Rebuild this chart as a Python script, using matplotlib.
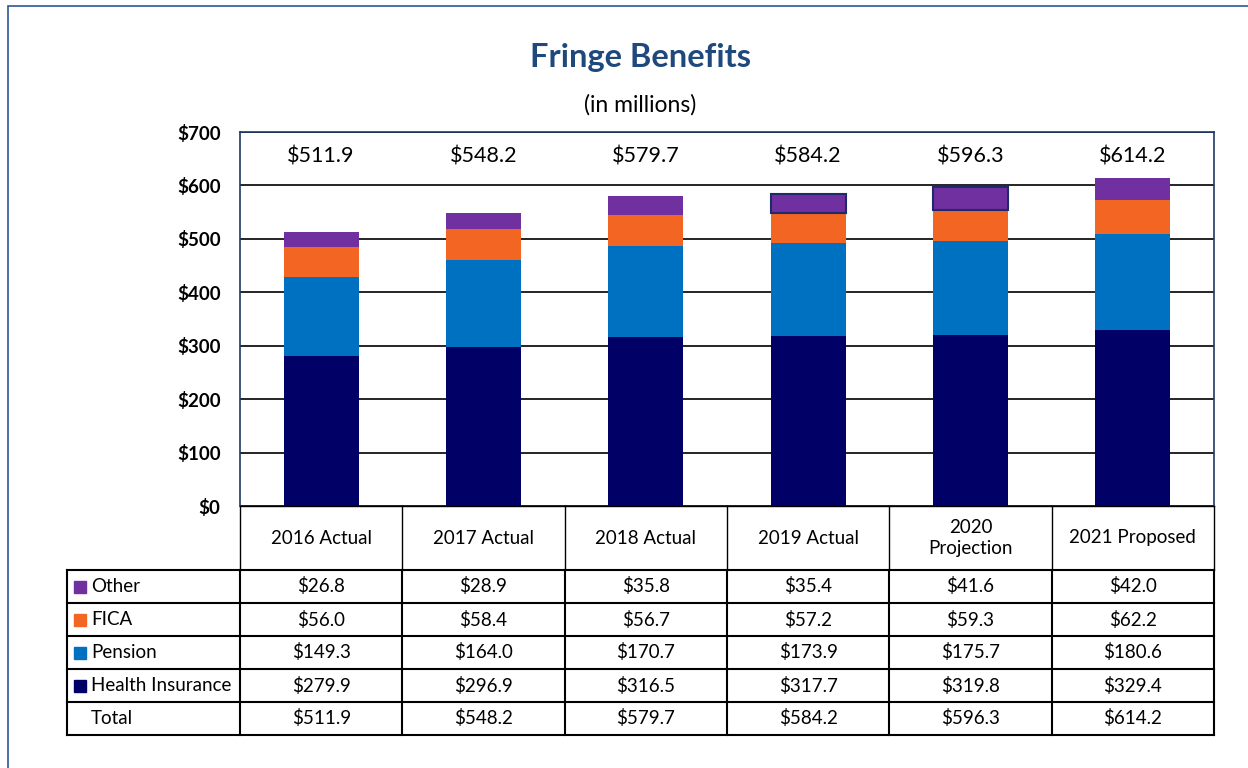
import matplotlib.pyplot as plt
from matplotlib.patches import Rectangle
from matplotlib.lines import Line2D

plt.rcParams['font.family'] = ['Lato', 'DejaVu Sans']

categories = ['2016 Actual', '2017 Actual', '2018 Actual', '2019 Actual', '2020\nProjection', '2021 Proposed']
health = [279.9, 296.9, 316.5, 317.7, 319.8, 329.4]
pension = [149.3, 164.0, 170.7, 173.9, 175.7, 180.6]
fica = [56.0, 58.4, 56.7, 57.2, 59.3, 62.2]
other = [26.8, 28.9, 35.8, 35.4, 41.6, 42.0]
totals = [511.9, 548.2, 579.7, 584.2, 596.3, 614.2]

series = [('Health Insurance', health, '#000066'),
          ('Pension', pension, '#0070C0'),
          ('FICA', fica, '#F26522'),
          ('Other', other, '#7030A0')]
outlined = [3, 4]  # 2019, 2020 "Other" segments have a dark outline

W, H = 1248, 768
fig = plt.figure(figsize=(W / 100, H / 100), dpi=100)

# outer frame
fig.add_artist(Rectangle((8 / W, -0.01), 1.1, 1 - 6 / H + 0.01, transform=fig.transFigure,
                         fill=False, edgecolor='#2F5597', lw=1.2))

fig.text(640 / W, 1 - 58 / H, 'Fringe Benefits', ha='center', va='center',
         fontsize=23.5, fontweight='bold', color='#1F497D')
fig.text(640 / W, 1 - 105 / H, '(in millions)', ha='center', va='center', fontsize=16.5)

# plot area
x0, x1, ytop, ybot = 240, 1214, 132, 506
ax = fig.add_axes([x0 / W, 1 - ybot / H, (x1 - x0) / W, (ybot - ytop) / H])
xs = range(len(categories))
bottom = [0] * len(categories)
for name, vals, col in series:
    bars = ax.bar(xs, vals, width=0.46, bottom=bottom, color=col, zorder=3, label=name)
    bottom = [b + v for b, v in zip(bottom, vals)]
for i in outlined:
    b = bars[i]
    b.set_edgecolor('#1F2A6B')
    b.set_linewidth(1.5)

for i, t in enumerate(totals):
    ax.text(i, 655, f'${t:.1f}', ha='center', va='center', fontsize=15.5)

ax.set_xlim(-0.5, len(categories) - 0.5)
ax.set_ylim(0, 700)
ax.set_yticks(range(0, 701, 100))
ax.set_yticklabels([f'${v}' for v in range(0, 701, 100)], fontweight='bold', fontsize=13.5)
ax.tick_params(axis='y', length=0, pad=14)
ax.set_xticks([])
ax.grid(axis='y', color='black', lw=1.2, zorder=1)
for s in ax.spines.values():
    s.set_color('#1F3864')
    s.set_linewidth(1.2)
ax.spines['bottom'].set_visible(False)

# data table below the plot
tax = fig.add_axes([0, 0, 1, 1])
tax.set_xlim(0, W)
tax.set_ylim(H, 0)
tax.axis('off')

col_edges = [x0 + (x1 - x0) * k / len(categories) for k in range(len(categories) + 1)]
lx = 67
head_top, head_bot = 506, 570
row_h = 33
rows = [('Other', other, '#7030A0'), ('FICA', fica, '#F26522'),
        ('Pension', pension, '#0070C0'), ('Health Insurance', health, '#000066'),
        ('Total', totals, None)]
table_bot = head_bot + row_h * len(rows)

def hline(y, xa, xb, lw):
    tax.add_line(Line2D([xa, xb], [y, y], color='black', lw=lw))

def vline(x, ya, yb, lw):
    tax.add_line(Line2D([x, x], [ya, yb], color='black', lw=lw))

# header
hline(head_top, x0, x1, 1.0)
for x in col_edges:
    vline(x, head_top, head_bot, 1.0)
for i, c in enumerate(categories):
    tax.text((col_edges[i] + col_edges[i + 1]) / 2, (head_top + head_bot) / 2, c,
             ha='center', va='center', fontsize=13.5, linespacing=1.25)

# body
for r in range(len(rows) + 1):
    hline(head_bot + r * row_h, lx, x1, 1.5)
for x in [lx] + col_edges:
    vline(x, head_bot, table_bot, 1.5)
for r, (name, vals, col) in enumerate(rows):
    yc = head_bot + r * row_h + row_h / 2
    if col:
        tax.add_patch(Rectangle((74, yc - 6), 12, 12, color=col))
    tax.text(91, yc, name, ha='left', va='center', fontsize=13.5)
    for i, v in enumerate(vals):
        tax.text((col_edges[i] + col_edges[i + 1]) / 2, yc, f'${v:.1f}',
                 ha='center', va='center', fontsize=13.5)

fig.savefig('out.png', dpi=100)
